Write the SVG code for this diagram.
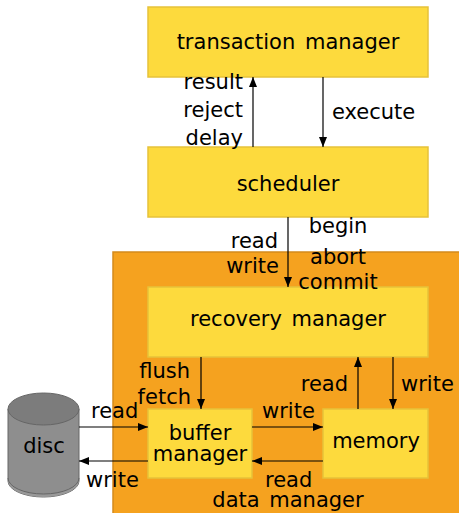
<svg xmlns="http://www.w3.org/2000/svg" width="459" height="513" viewBox="0 0 459 513">
<style>
text{font-family:"DejaVu Sans","Liberation Sans",sans-serif;font-size:21px;word-spacing:3px;fill:#000}
.box{fill:#FDDA3D;stroke:#E6C23A;stroke-width:1.5}
.c{text-anchor:middle}
.r{text-anchor:end}
.ln{stroke:#000;stroke-width:1.2;fill:none;marker-end:url(#ah)}
</style>
<defs>
<marker id="ah" viewBox="0 0 10 8" refX="10" refY="4" markerWidth="10" markerHeight="8" markerUnits="userSpaceOnUse" orient="auto">
<path d="M0,0 L10,4 L0,8 Z" fill="#000"/>
</marker>
</defs>
<rect width="459" height="513" fill="#fff"/>
<g id="data-manager">
<rect x="113" y="252" width="350" height="270" fill="#F5A21F" stroke="#D48A1C" stroke-width="1.5"/>
<text class="c" x="288" y="507">data manager</text>
</g>
<g id="transaction-manager">
<rect class="box" x="148" y="7" width="280" height="70"/>
<text class="c" x="288" y="49">transaction manager</text>
</g>
<g id="scheduler">
<rect class="box" x="148" y="147" width="280" height="70"/>
<text class="c" x="288" y="191">scheduler</text>
</g>
<g id="recovery-manager">
<rect class="box" x="148" y="287" width="280" height="70"/>
<text class="c" x="288" y="326">recovery manager</text>
</g>
<g id="buffer-manager">
<rect class="box" x="148" y="409" width="104" height="69"/>
<text class="c" x="200" y="440">buffer</text>
<text class="c" x="200" y="461">manager</text>
</g>
<g id="memory">
<rect class="box" x="323" y="409" width="105" height="69"/>
<text class="c" x="376" y="448">memory</text>
</g>
<g id="disc">
<path d="M8,409 L8,481 A35.5,16 0 0 0 79,481 L79,409" fill="#8E8E8E" stroke="#666" stroke-width="1"/>
<path d="M8,478 L8,481 A35.5,16 0 0 0 79,481 L79,478 A35.5,16 0 0 1 8,478 Z" fill="#999" stroke="none"/>
<path d="M8,478 A35.5,16 0 0 0 79,478" fill="none" stroke="#666" stroke-width="1"/>
<ellipse cx="43.5" cy="409" rx="35.5" ry="16" fill="#7C7C7C" stroke="#666" stroke-width="1"/>
<text class="c" x="44" y="453">disc</text>
</g>
<g id="connectors">
<line class="ln" x1="253" y1="147" x2="253" y2="77"/>
<line class="ln" x1="323" y1="77" x2="323" y2="147"/>
<line class="ln" x1="288" y1="217" x2="288" y2="287"/>
<line class="ln" x1="201" y1="357" x2="201" y2="409"/>
<line class="ln" x1="358" y1="409" x2="358" y2="357"/>
<line class="ln" x1="393" y1="357" x2="393" y2="409"/>
<line class="ln" x1="252" y1="427" x2="323" y2="427"/>
<line class="ln" x1="323" y1="461" x2="252" y2="461"/>
<line class="ln" x1="79" y1="427" x2="148" y2="427"/>
<line class="ln" x1="148" y1="461" x2="79" y2="461"/>
<text class="r" x="243" y="89">result</text>
<text class="r" x="243" y="117">reject</text>
<text class="r" x="243" y="145">delay</text>
<text x="332" y="119">execute</text>
<text class="r" x="278" y="248">read</text>
<text class="r" x="279" y="273">write</text>
<text class="c" x="338" y="233">begin</text>
<text class="c" x="338" y="264">abort</text>
<text class="c" x="338" y="289">commit</text>
<text class="r" x="190" y="378">flush</text>
<text class="r" x="191" y="404">fetch</text>
<text class="r" x="348" y="391">read</text>
<text x="401" y="391">write</text>
<text x="91" y="418">read</text>
<text x="262" y="418">write</text>
<text x="86" y="487">write</text>
<text x="265" y="487">read</text>
</g>
</svg>
